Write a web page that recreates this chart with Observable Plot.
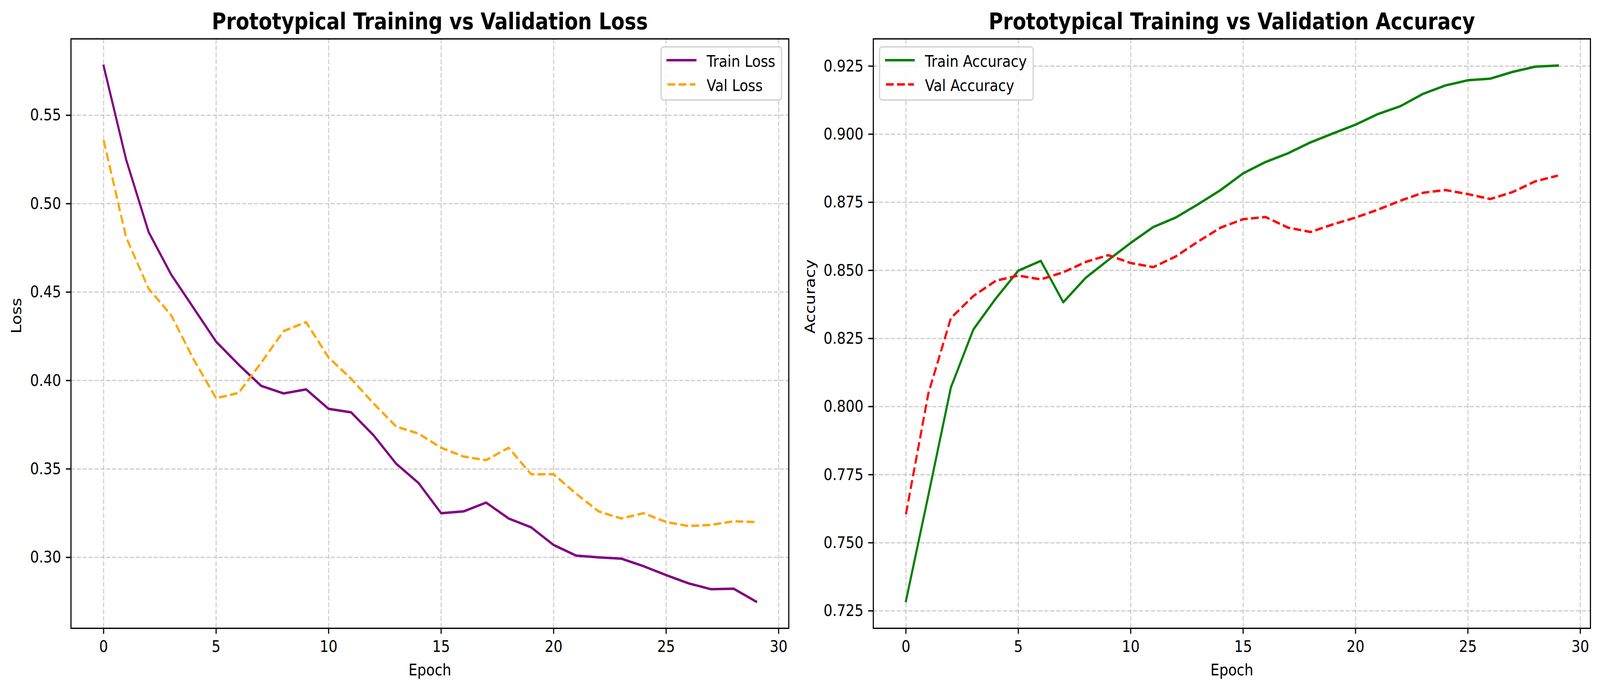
<!DOCTYPE html>
<html>
<head>
<meta charset="utf-8">
<script src="https://cdn.jsdelivr.net/npm/d3@7"></script>
<script src="https://cdn.jsdelivr.net/npm/@observablehq/plot@0.6"></script>
<style>
html, body { margin: 0; padding: 0; background: #fff; overflow: hidden; }
#page { position: relative; width: 4768px; height: 1769px; overflow: hidden; font-family: "DejaVu Sans", sans-serif; background: #fff; transform-origin: 0 0; }
.panel { position: absolute; top: 0; }
.legend { position: absolute; top: 117.9px; box-sizing: border-box; border: 4.17px solid rgba(204,204,204,0.8); border-radius: 10px; background: rgba(255,255,255,0.8); padding: 12.7px 16.7px 14.5px 13.8px; font-size: 41.67px; color: #000; font-family: "DejaVu Sans", sans-serif; }
.legend .row { display: flex; align-items: flex-start; height: 43px; line-height: 43px; white-space: nowrap; }
.legend .row + .row { margin-top: 19.3px; }
.legend svg { display: block; margin-right: 30.2px; flex: none; }
</style>
</head>
<body>
<div id="page">
  <div id="left" class="panel" style="left:0px"></div>
  <div id="right" class="panel" style="left:2380px"></div>
</div>
<script>
// ---- data ----
const epochs = [0,1,2,3,4,5,6,7,8,9,10,11,12,13,14,15,16,17,18,19,20,21,22,23,24,25,26,27,28,29];
const trainLoss = [0.578,0.525,0.484,0.460,0.441,0.422,0.409,0.397,0.3927,0.395,0.384,0.382,0.369,0.353,0.342,0.325,0.326,0.331,0.322,0.317,0.307,0.301,0.300,0.2993,0.295,0.290,0.2853,0.282,0.2823,0.275];
const valLoss = [0.536,0.481,0.452,0.437,0.412,0.390,0.393,0.410,0.428,0.433,0.413,0.401,0.387,0.374,0.370,0.362,0.357,0.355,0.362,0.347,0.347,0.336,0.326,0.322,0.325,0.320,0.3177,0.3184,0.3204,0.320];
const trainAcc = [0.7286,0.7675,0.807,0.8283,0.8397,0.8499,0.8535,0.8383,0.8473,0.8538,0.8601,0.8659,0.8694,0.8743,0.8795,0.8856,0.8898,0.893,0.897,0.9003,0.9035,0.9074,0.9103,0.9148,0.9179,0.9198,0.9204,0.9229,0.9248,0.9252];
const valAcc = [0.7605,0.8049,0.8325,0.8406,0.8462,0.8481,0.8467,0.8493,0.8531,0.8556,0.8527,0.8512,0.8551,0.8606,0.8657,0.8688,0.8696,0.8657,0.8641,0.8669,0.8694,0.8723,0.8756,0.8785,0.8795,0.878,0.8762,0.8788,0.8827,0.8848];
const xTicks = [0,5,10,15,20,25,30];
const lossTicks = [0.30,0.35,0.40,0.45,0.50,0.55];
const accTicks = [0.725,0.750,0.775,0.800,0.825,0.850,0.875,0.900,0.925];
const lossSeries = [
  {name: "Train Loss", values: trainLoss, color: "#800080", dash: null},
  {name: "Val Loss", values: valLoss, color: "#FFA500", dash: "23.1,10"}
];
const accSeries = [
  {name: "Train Accuracy", values: trainAcc, color: "#008000", dash: null},
  {name: "Val Accuracy", values: valAcc, color: "#FF0000", dash: "23.1,10"}
];

const gridStyle = {stroke: "#b0b0b0", strokeOpacity: 0.6, strokeWidth: 3.33, strokeDasharray: "12.3,5.3"};

function panel({width, marginLeft, marginRight, yDomain, yTicks, yFormat, series, title, ylabel, ylabelDx}) {
  return Plot.plot({
    width, height: 1769, marginLeft, marginRight, marginTop: 99, marginBottom: 161,
    style: {fontFamily: "DejaVu Sans", fontSize: "41.67px", background: "white", color: "black", overflow: "visible"},
    x: {domain: [-1.45, 30.45]},
    y: {domain: yDomain},
    marks: [
      Plot.gridX(xTicks, gridStyle),
      Plot.gridY(yTicks, gridStyle),
      ...series.map(s => Plot.line(epochs, {
        x: d => d, y: (d, i) => s.values[i], stroke: s.color, strokeWidth: 6.25,
        strokeDasharray: s.dash, strokeLinecap: s.dash ? "butt" : "square", strokeLinejoin: "round"
      })),
      Plot.frame({stroke: "black", strokeWidth: 3.33}),
      Plot.axisX(xTicks, {tickSize: 14.58, tickPadding: 16.8, strokeWidth: 3.33, fontSize: 41.67, label: null, tickFormat: d3.format("d")}),
      Plot.axisY(yTicks, {tickSize: 14.58, tickPadding: 14.6, strokeWidth: 3.33, fontSize: 41.67, label: null, tickFormat: d3.format(yFormat)}),
      Plot.text([title], {frameAnchor: "top", dy: -25, lineAnchor: "bottom", fontSize: 58.33, fontWeight: "bold"}),
      Plot.text(["Epoch"], {frameAnchor: "bottom", dy: 120, lineAnchor: "bottom", fontSize: 41.67}),
      Plot.text([ylabel], {frameAnchor: "left", dx: ylabelDx, rotate: -90, lineAnchor: "bottom", fontSize: 41.67})
    ]
  });
}

function legend(series, pos) {
  const div = document.createElement("div");
  div.className = "legend";
  Object.assign(div.style, pos);
  for (const s of series) {
    const row = document.createElement("div");
    row.className = "row";
    const ns = "http://www.w3.org/2000/svg";
    const svg = document.createElementNS(ns, "svg");
    svg.setAttribute("width", "89.5");
    svg.setAttribute("height", "43");
    const ln = document.createElementNS(ns, "line");
    ln.setAttribute("x1", "3.1"); ln.setAttribute("x2", "86.4");
    ln.setAttribute("y1", "19.2"); ln.setAttribute("y2", "19.2");
    ln.setAttribute("stroke", s.color);
    ln.setAttribute("stroke-width", "6.25");
    ln.setAttribute("stroke-linecap", s.dash ? "butt" : "square");
    if (s.dash) ln.setAttribute("stroke-dasharray", s.dash);
    svg.appendChild(ln);
    const span = document.createElement("span");
    span.textContent = s.name;
    row.appendChild(svg);
    row.appendChild(span);
    div.appendChild(row);
  }
  document.getElementById("page").appendChild(div);
}

document.getElementById("left").appendChild(panel({
  width: 2380, marginLeft: 211, marginRight: 30,
  yDomain: [0.2599, 0.5932], yTicks: lossTicks, yFormat: ".2f",
  series: lossSeries, title: "Prototypical Training vs Validation Loss", ylabel: "Loss", ylabelDx: -148.3
}));
document.getElementById("right").appendChild(panel({
  width: 2388, marginLeft: 222, marginRight: 29,
  yDomain: [0.7186, 0.935], yTicks: accTicks, yFormat: ".3f",
  series: accSeries, title: "Prototypical Training vs Validation Accuracy", ylabel: "Accuracy", ylabelDx: -174.3
}));
legend(lossSeries, {right: (4768 - 2331) + "px"});
legend(accSeries, {left: "2619px"});

// fit the 4768x1769 layout into the actual viewport if it is smaller
function fit() {
  const w = document.documentElement.clientWidth || window.innerWidth;
  const h = document.documentElement.clientHeight || window.innerHeight;
  const sx = Math.min(1, w / 4768), sy = Math.min(1, h / 1769);
  document.getElementById("page").style.transform = (sx < 1 || sy < 1) ? `scale(${sx}, ${sy})` : "";
}
fit();
window.addEventListener("resize", fit);
</script>
</body>
</html>
